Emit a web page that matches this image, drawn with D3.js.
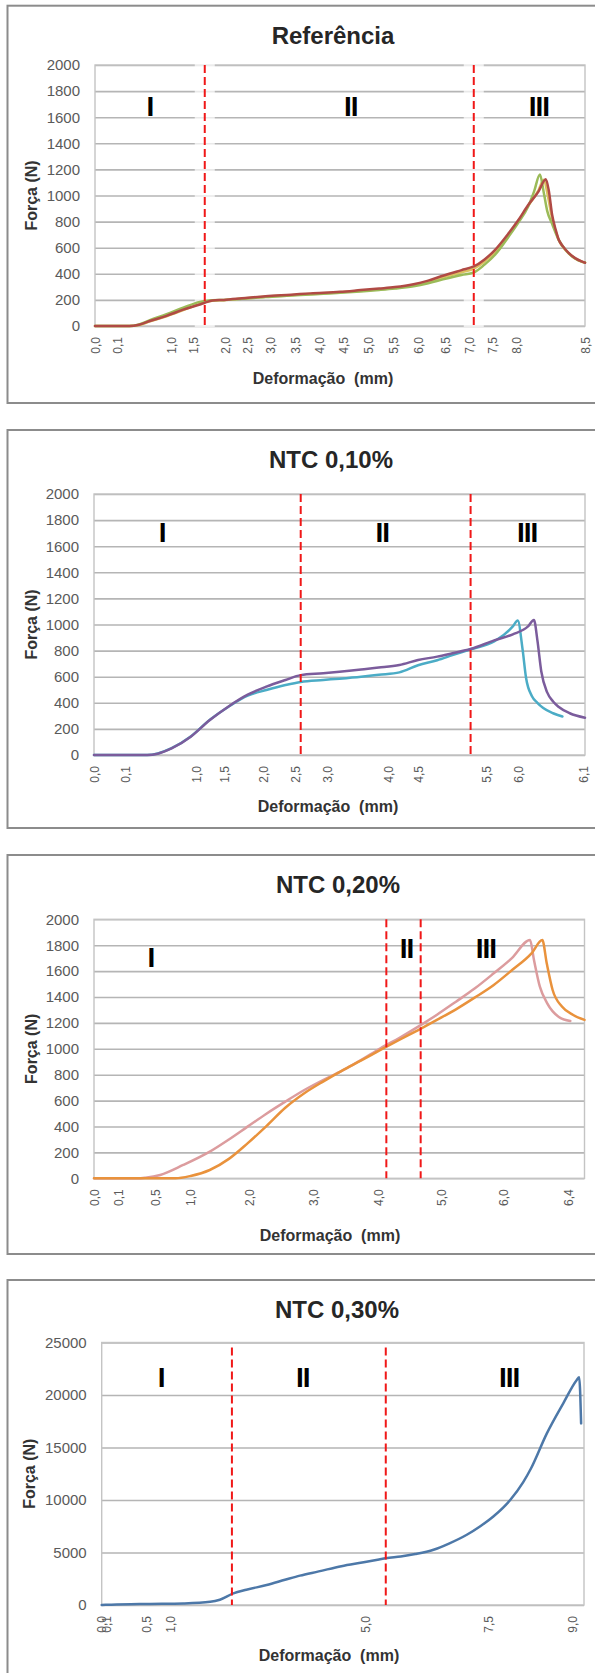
<!DOCTYPE html>
<html>
<head>
<meta charset="utf-8">
<script src="https://cdn.jsdelivr.net/npm/d3@7"></script>
<style>
  html, body { margin: 0; padding: 0; background: #fff; }
  svg { display: block; }
</style>
</head>
<body>
<svg id="fig" width="595" height="1673"></svg>
<script>
// ---------------------------------------------------------------
// Force–deformation records (x = position along the record, 0–100,
// as plotted on the spreadsheet category axis; y = force in N)
// ---------------------------------------------------------------
const forceTicksLow  = [0, 200, 400, 600, 800, 1000, 1200, 1400, 1600, 1800, 2000];
const forceTicksHigh = [0, 5000, 10000, 15000, 20000, 25000];
const phaseNames = ["I", "II", "III"];

// --- Referência ---
const refTickLabels = ["0,0","0,1","1,0","1,5","2,0","2,5","3,0","3,5","4,0","4,5","5,0","5,5","6,0","6,5","7,0","7,5","8,0","8,5"];
const refTickAt     = [0, 4.5, 15.5, 20, 26.5, 31, 35.7, 40.8, 45.7, 50.6, 55.7, 60.8, 66, 71.4, 76.3, 81, 86, 100];
const refPhaseBounds = [22.4, 77.3];
const refPhaseLabelAt = [[11.2, 1609], [52.2, 1609], [90.6, 1609]];
const refGold = [[0,0],[7,0],[9,8],[11.2,35],[14.6,75],[18,122],[21.4,170],[22.4,182],[24,193],[26.3,198],[30,210],[34.8,225],[40,236],[44,246],[50,258],[54.2,270],[58,281],[61.2,292],[65,312],[68,338],[71,372],[74.8,412],[77.3,440],[79.5,495],[81.6,565],[84.4,700],[86.4,805],[88.4,920],[90.5,1040],[91.6,1120],[92.4,1000],[93.2,840],[94.6,662],[96.6,560],[99.3,493],[100,486]];
const refGreen = [[0,0],[7,0],[9,12],[11.2,45],[14.6,90],[18,140],[21.4,185],[22.4,192],[24,198],[26.3,200],[30,208],[34.8,222],[40,233],[44,242],[50,254],[54.2,265],[58,276],[61.2,287],[65,305],[68,328],[71,357],[74.8,391],[77.3,410],[79.5,470],[81.6,544],[84.4,684],[86.4,792],[88.4,915],[89.6,1030],[90.8,1160],[91.6,1020],[92.3,880],[93.2,790],[94.6,662],[96.6,560],[99.3,493],[100,486]];
const refRed = [[0,0],[7,0],[9,10],[11.2,38],[14.6,78],[18,125],[21.4,165],[22.4,178],[24,195],[26.3,200],[30,212],[34.8,228],[40,240],[44,250],[50,262],[54.2,275],[58,287],[61.2,298],[65,320],[68,348],[71,385],[74.8,428],[77.3,456],[79.5,510],[81.6,582],[84.4,710],[86.4,812],[88.4,927],[90.5,1030],[92,1125],[92.6,1040],[93.3,850],[94,740],[94.6,665],[95.5,610],[96.6,562],[98,520],[99.3,495],[100,485]];

// --- NTC 0,10% ---
const ntc10TickLabels = ["0,0","0,1","1,0","1,5","2,0","2,5","3,0","4,0","4,5","5,5","6,0","6,1"];
const ntc10TickAt     = [0, 6.4, 20.8, 26.6, 34.4, 40.9, 47.6, 60, 66, 79.9, 86.5, 99.6];
const ntc10PhaseBounds = [42.1, 76.7];
const ntc10PhaseLabelAt = [[13.9, 1634], [58.7, 1634], [88.2, 1634]];
const ntc10Purple = [[0,0],[10.8,0],[13,10],[15.8,50],[19.7,140],[23.6,268],[27.4,372],[31.3,462],[35.1,524],[39,575],[42.1,612],[46.7,626],[50,638],[54.4,656],[58,670],[62.2,690],[66,728],[69.9,754],[73,780],[76.7,812],[81.5,878],[85.3,925],[88.4,985],[89.6,1035],[90.3,880],[91.1,640],[92.3,480],[93.5,410],[94.6,370],[96.9,320],[100,285]];
const ntc10Aqua = [[0,0],[10.8,0],[13,12],[15.8,52],[19.7,142],[23.6,270],[27.4,370],[31.3,455],[35.1,498],[39,536],[42.1,560],[46.7,575],[50,585],[54.4,600],[58,615],[62.2,633],[66,688],[69.9,726],[73,765],[76.7,810],[81.5,870],[85.3,985],[86.3,1030],[87.3,805],[88,590],[89.2,450],[90.3,400],[91.5,360],[93.5,320],[95.4,295]];

// --- NTC 0,20% ---
const ntc20TickLabels = ["0,0","0,1","0,5","1,0","2,0","3,0","4,0","5,0","6,0","6,4"];
const ntc20TickAt     = [0, 4.9, 12.4, 19.7, 31.7, 44.8, 58, 70.8, 83.5, 96.7];
const ntc20PhaseBounds = [59.6, 66.6];
const ntc20PhaseLabelAt = [[11.6, 1634], [63.7, 1701], [79.9, 1701]];
const ntc20Pink = [[0,0],[8.9,0],[10.5,5],[13.5,26],[18.2,103],[23.6,206],[27.5,300],[31.3,399],[35,495],[39,592],[42.8,680],[46.7,759],[50.5,830],[54.5,915],[58.4,1004],[62.3,1085],[66.1,1171],[70,1265],[73.8,1364],[77.6,1465],[81.5,1583],[85.2,1700],[88.9,1840],[89.7,1686],[90.9,1480],[92.4,1351],[94.7,1248],[97.1,1215]];
const ntc20Orange = [[0,0],[16.6,0],[19.7,18],[23.6,64],[27.5,150],[31.3,270],[35.2,405],[39,545],[42.8,655],[46.7,747],[50.5,830],[54.5,910],[58.4,991],[62.3,1070],[66.1,1145],[70,1225],[73.8,1305],[77.6,1395],[81.5,1493],[85.3,1610],[89.2,1737],[91.4,1840],[92.3,1660],[93.5,1454],[95.4,1326],[97.7,1261],[100,1223]];

// --- NTC 0,30% ---
const ntc30TickLabels = ["0,0","0,1","0,5","1,0","5,0","7,5","9,0"];
const ntc30TickAt     = [0, 0.9, 9.3, 14.2, 54.6, 80.2, 97.5];
const ntc30PhaseBounds = [27, 58.9];
const ntc30PhaseLabelAt = [[12.3, 20790], [41.7, 20790], [84.5, 20790]];
const ntc30Blue = [[0,0],[2,30],[10,100],[16.9,150],[22.5,300],[24.5,500],[27.3,1100],[30,1450],[34.2,1900],[38,2400],[41.1,2800],[45,3200],[49.7,3700],[54,4050],[57.5,4340],[58.9,4460],[62,4620],[65,4850],[68.8,5260],[72,5850],[75.7,6690],[78.5,7500],[81.2,8430],[84.7,10000],[87.4,11700],[89,13000],[92.3,16350],[95.7,19210],[98.5,21430],[99,21700],[99.4,17300]];

// ---------------------------------------------------------------
// Panel layout
// ---------------------------------------------------------------
const panels = [
  { title: "Referência", top: 5.7, bottom: 403, plotTop: 65, plotBottom: 326, plotLeft: 95, plotRight: 585,
    titleX: 333, xTitleX: 323, xTitleY: 384, yTitleX: 37,
    yMax: 2000, yTicks: forceTicksLow, tickLabels: refTickLabels, tickAt: refTickAt,
    bounds: refPhaseBounds, phaseAt: refPhaseLabelAt, halo: true, dashStart: 0,
    series: [ { data: refGold, color: "#dcc060" }, { data: refGreen, color: "#9bbb59" }, { data: refRed, color: "#b04a45" } ] },
  { title: "NTC 0,10%", top: 430, bottom: 828, plotTop: 494, plotBottom: 755, plotLeft: 94, plotRight: 585,
    titleX: 331, xTitleX: 328, xTitleY: 812, yTitleX: 37,
    yMax: 2000, yTicks: forceTicksLow, tickLabels: ntc10TickLabels, tickAt: ntc10TickAt,
    bounds: ntc10PhaseBounds, phaseAt: ntc10PhaseLabelAt, halo: false, dashStart: 0,
    series: [ { data: ntc10Aqua, color: "#4bacc6" }, { data: ntc10Purple, color: "#7b5c9c" } ] },
  { title: "NTC 0,20%", top: 855, bottom: 1254, plotTop: 919.3, plotBottom: 1178.3, plotLeft: 94, plotRight: 584.5,
    titleX: 338, xTitleX: 330, xTitleY: 1241, yTitleX: 37,
    yMax: 2000, yTicks: forceTicksLow, tickLabels: ntc20TickLabels, tickAt: ntc20TickAt,
    bounds: ntc20PhaseBounds, phaseAt: ntc20PhaseLabelAt, halo: false, dashStart: 0,
    series: [ { data: ntc20Pink, color: "#dc9c9e" }, { data: ntc20Orange, color: "#e9923c" } ] },
  { title: "NTC 0,30%", top: 1280, bottom: 1700, plotTop: 1342.5, plotBottom: 1605, plotLeft: 101.7, plotRight: 584,
    titleX: 337, xTitleX: 329, xTitleY: 1661, yTitleX: 35,
    yMax: 25000, yTicks: forceTicksHigh, tickLabels: ntc30TickLabels, tickAt: ntc30TickAt,
    bounds: ntc30PhaseBounds, phaseAt: ntc30PhaseLabelAt, halo: false, dashStart: 5,
    series: [ { data: ntc30Blue, color: "#4d78a8" } ] }
];

const svg = d3.select("#fig");
const FONT = "'Liberation Sans', Arial, Helvetica, sans-serif";

function drawPanel(p) {
  const g = svg.append("g");

  // chart frame (right edge runs off the page)
  g.append("rect")
    .attr("x", 7.5).attr("y", p.top)
    .attr("width", 640).attr("height", p.bottom - p.top)
    .attr("fill", "#fff").attr("stroke", "#8c8c8c").attr("stroke-width", 2);

  const x = d3.scaleLinear().domain([0, 100]).range([p.plotLeft, p.plotRight]);
  const y = d3.scaleLinear().domain([0, p.yMax]).range([p.plotBottom, p.plotTop]);

  // horizontal gridlines + force labels
  const yAxis = g.append("g")
    .attr("transform", `translate(${p.plotLeft},0)`)
    .call(d3.axisLeft(y).tickValues(p.yTicks).tickFormat(d3.format("d"))
      .tickSize(-(p.plotRight - p.plotLeft)).tickPadding(15));
  yAxis.select(".domain").remove();
  yAxis.selectAll("line").attr("stroke", "#b5b5b5").attr("stroke-width", 1.6);
  yAxis.selectAll("text")
    .attr("fill", "#5a5a5a").style("font-family", FONT).style("font-size", "15px");

  // plot-area outline
  g.append("rect")
    .attr("x", p.plotLeft).attr("y", p.plotTop)
    .attr("width", p.plotRight - p.plotLeft).attr("height", p.plotBottom - p.plotTop)
    .attr("fill", "none").attr("stroke", "#c4c4c4").attr("stroke-width", 1.4);

  // category labels along the deformation axis
  const xAxis = g.append("g")
    .attr("transform", `translate(0,${p.plotBottom})`)
    .call(d3.axisBottom(x).tickValues(p.tickAt).tickFormat((d, i) => p.tickLabels[i]).tickSize(0));
  xAxis.select(".domain").remove();
  xAxis.selectAll("text")
    .attr("transform", "rotate(-90)")
    .attr("x", -11).attr("y", 0).attr("dy", "0.35em")
    .style("text-anchor", "end")
    .attr("fill", "#5a5a5a").style("font-family", FONT).style("font-size", "12px");

  // light band behind the phase boundaries
  if (p.halo) {
    g.selectAll("rect.halo").data(p.bounds).enter().append("rect")
      .attr("x", d => x(d) - 10).attr("y", p.plotTop - 1)
      .attr("width", 20).attr("height", p.plotBottom - p.plotTop + 2)
      .attr("fill", "#fff").attr("opacity", 0.7);
  }

  // force–deformation curves
  const line = d3.line().x(d => x(d[0])).y(d => y(d[1])).curve(d3.curveMonotoneX);
  p.series.forEach(s => {
    g.append("path").datum(s.data)
      .attr("d", line)
      .attr("fill", "none").attr("stroke", s.color)
      .attr("stroke-width", 2.5).attr("stroke-linejoin", "round").attr("stroke-linecap", "round");
  });

  // phase boundaries
  g.selectAll("line.phase").data(p.bounds).enter().append("line")
    .attr("x1", d => x(d)).attr("x2", d => x(d))
    .attr("y1", p.plotTop + p.dashStart).attr("y2", p.plotBottom)
    .attr("stroke", "#f01818").attr("stroke-width", 2).attr("stroke-dasharray", "8,4");

  // phase numerals
  g.selectAll("text.phase").data(p.phaseAt).enter().append("text")
    .attr("x", d => x(d[0])).attr("y", d => y(d[1]))
    .attr("text-anchor", "middle")
    .style("font-family", FONT).style("font-size", "28px").style("font-weight", "bold")
    .style("letter-spacing", "-1px")
    .attr("fill", "#000")
    .text((d, i) => phaseNames[i]);

  // title
  g.append("text")
    .attr("x", p.titleX).attr("y", p.top + 37.8)
    .attr("text-anchor", "middle")
    .style("font-family", FONT).style("font-size", "24px").style("font-weight", "bold")
    .attr("fill", "#262626")
    .text(p.title);

  // axis titles
  g.append("text")
    .attr("x", p.xTitleX).attr("y", p.xTitleY)
    .attr("text-anchor", "middle")
    .style("font-family", FONT).style("font-size", "16px").style("font-weight", "bold")
    .style("white-space", "pre")
    .attr("fill", "#333")
    .text("Deformação  (mm)");

  g.append("text")
    .attr("transform", `translate(${p.yTitleX},${(p.plotTop + p.plotBottom) / 2}) rotate(-90)`)
    .attr("text-anchor", "middle")
    .style("font-family", FONT).style("font-size", "16px").style("font-weight", "bold")
    .attr("fill", "#333")
    .text("Força (N)");
}

panels.forEach(drawPanel);
</script>
</body>
</html>
